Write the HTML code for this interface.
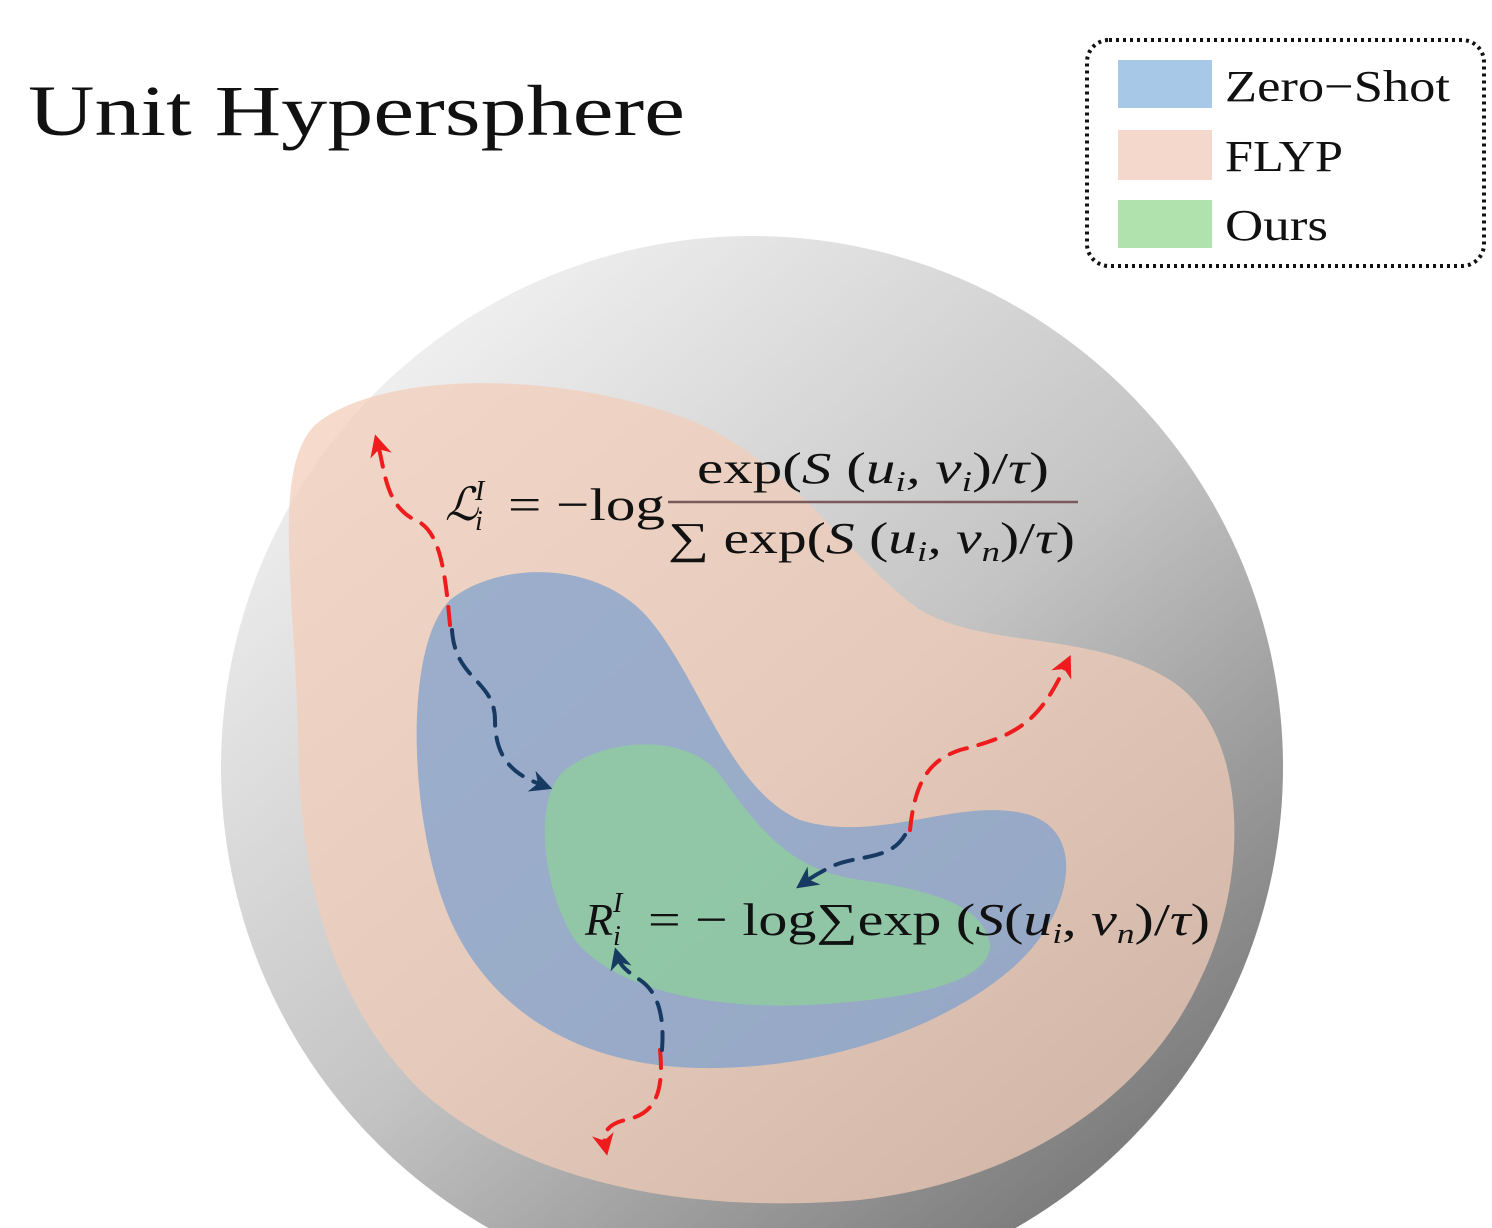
<!DOCTYPE html>
<html><head><meta charset="utf-8"><style>
html,body{margin:0;padding:0;background:#fff;overflow:hidden;width:1492px;height:1228px;}
svg{display:block;font-family:"Liberation Serif","DejaVu Serif",serif;overflow:hidden;}
</style></head><body>
<svg width="1492" height="1228" viewBox="0 0 1492 1228">
<defs>
<clipPath id="frame"><rect x="0" y="0" width="1492" height="1228"/></clipPath>
<linearGradient id="sg" x1="0.15" y1="0.05" x2="0.9" y2="0.95">
<stop offset="0" stop-color="#f4f4f4"/><stop offset="0.5" stop-color="#c4c4c4"/><stop offset="1" stop-color="#6e6e6e"/>
</linearGradient>
<marker id="ra" markerWidth="22" markerHeight="22" refX="5" refY="5" orient="auto" markerUnits="userSpaceOnUse" viewBox="0 0 10 10"><path d="M0,0 L10,5 L0,10 L3,5 Z" fill="#ee1c1c"/></marker>
<marker id="ba" markerWidth="22" markerHeight="22" refX="5" refY="5" orient="auto" markerUnits="userSpaceOnUse" viewBox="0 0 10 10"><path d="M0,0 L10,5 L0,10 L3,5 Z" fill="#173a63"/></marker>
</defs>
<text x="28" y="135" font-size="72" fill="#111" textLength="657" lengthAdjust="spacingAndGlyphs">Unit Hypersphere</text>
<g>
<rect x="1087" y="40" width="397" height="226" rx="22" fill="#fff" stroke="#111" stroke-width="4" stroke-dasharray="3 4"/>
<rect x="1118" y="60" width="94" height="48" fill="#a8c8e8"/>
<rect x="1118" y="130" width="94" height="50" fill="#f5d8cc"/>
<rect x="1118" y="200" width="94" height="48" fill="#b0e2ae"/>
<text x="1225" y="101" font-size="44" fill="#111" textLength="225" lengthAdjust="spacingAndGlyphs">Zero−Shot</text>
<text x="1225" y="171" font-size="44" fill="#111" textLength="118" lengthAdjust="spacingAndGlyphs">FLYP</text>
<text x="1225" y="240" font-size="44" fill="#111" textLength="103" lengthAdjust="spacingAndGlyphs">Ours</text>
</g>
<g clip-path="url(#frame)">
<circle cx="752" cy="767" r="531" fill="url(#sg)"/>
<path fill="#f2cdb8" fill-opacity="0.72" d="M315,425 C380,370 560,370 690,420 C790,460 850,560 920,610 C990,650 1090,630 1170,680 C1250,730 1250,880 1200,980 C1150,1090 1030,1180 860,1200 C680,1215 520,1180 420,1090 C330,1000 300,880 298,740 C296,600 270,470 315,425 Z"/>
<path fill="#7b9fcd" fill-opacity="0.72" d="M450,600 C500,560 600,560 650,620 C700,680 730,790 800,820 C880,845 960,795 1030,815 C1090,835 1070,920 1010,970 C940,1030 820,1070 700,1068 C590,1066 500,1020 455,930 C410,840 400,650 450,600 Z"/>
<path fill="#8ed19a" fill-opacity="0.72" d="M565,770 C610,735 690,735 720,775 C760,830 790,870 860,880 C930,890 985,905 990,945 C990,985 900,1000 810,1005 C700,1010 610,985 575,940 C545,895 530,800 565,770 Z"/>
</g>
<g fill="none" stroke-width="4" stroke-dasharray="18 12" stroke-linecap="round">
<path stroke="#ee1c1c" marker-end="url(#ra)" d="M450,625 C445,570 440,530 415,520 C385,505 385,470 378,445"/>
<path stroke="#173a63" marker-end="url(#ba)" d="M452,630 C455,680 495,680 495,720 C495,760 515,775 542,785"/>
<path stroke="#ee1c1c" marker-end="url(#ra)" d="M910,830 C915,780 930,760 960,750 C1020,735 1040,720 1066,665"/>
<path stroke="#173a63" marker-end="url(#ba)" d="M905,835 C890,860 860,855 835,865 C820,872 812,877 805,882"/>
<path stroke="#ee1c1c" marker-end="url(#ra)" d="M660,1050 C665,1100 650,1115 625,1120 C605,1125 603,1135 605,1145"/>
<path stroke="#173a63" marker-end="url(#ba)" d="M662,1050 C665,1010 655,990 640,980 C625,970 620,965 618,958"/>
</g>
<g fill="#111">
<text x="445" y="520" font-size="46" font-style="italic">ℒ</text>
<text x="475" y="500" font-size="28" font-style="italic">I</text>
<text x="475" y="530" font-size="28" font-style="italic">i</text>
<text x="508" y="520" font-size="46" textLength="157" lengthAdjust="spacingAndGlyphs">= −log</text>
<text x="697" y="483" font-size="44" textLength="352" lengthAdjust="spacingAndGlyphs">exp(<tspan font-style="italic">S</tspan> (<tspan font-style="italic">u<tspan font-size="28" dy="8">i</tspan><tspan dy="-8">,</tspan> v<tspan font-size="28" dy="8">i</tspan></tspan><tspan dy="-8">)/</tspan><tspan font-style="italic">τ</tspan>)</text>
<line x1="668" y1="502" x2="1078" y2="502" stroke="#7a5a5a" stroke-width="2.5"/>
<text x="668" y="553" font-size="44" textLength="407" lengthAdjust="spacingAndGlyphs">∑ exp(<tspan font-style="italic">S</tspan> (<tspan font-style="italic">u<tspan font-size="28" dy="8">i</tspan><tspan dy="-8">,</tspan> v<tspan font-size="28" dy="8">n</tspan></tspan><tspan dy="-8">)/</tspan><tspan font-style="italic">τ</tspan>)</text>
</g>
<g fill="#111">
<text x="585" y="935" font-size="46" font-style="italic">R</text>
<text x="613" y="912" font-size="28" font-style="italic">I</text>
<text x="613" y="945" font-size="28" font-style="italic">i</text>
<text x="648" y="935" font-size="46" textLength="562" lengthAdjust="spacingAndGlyphs">= − log∑exp (<tspan font-style="italic">S</tspan>(<tspan font-style="italic">u<tspan font-size="28" dy="8">i</tspan></tspan><tspan dy="-8">, </tspan><tspan font-style="italic">v<tspan font-size="28" dy="8">n</tspan></tspan><tspan dy="-8">)/</tspan><tspan font-style="italic">τ</tspan>)</text>
</g>
</svg>
</body></html>
